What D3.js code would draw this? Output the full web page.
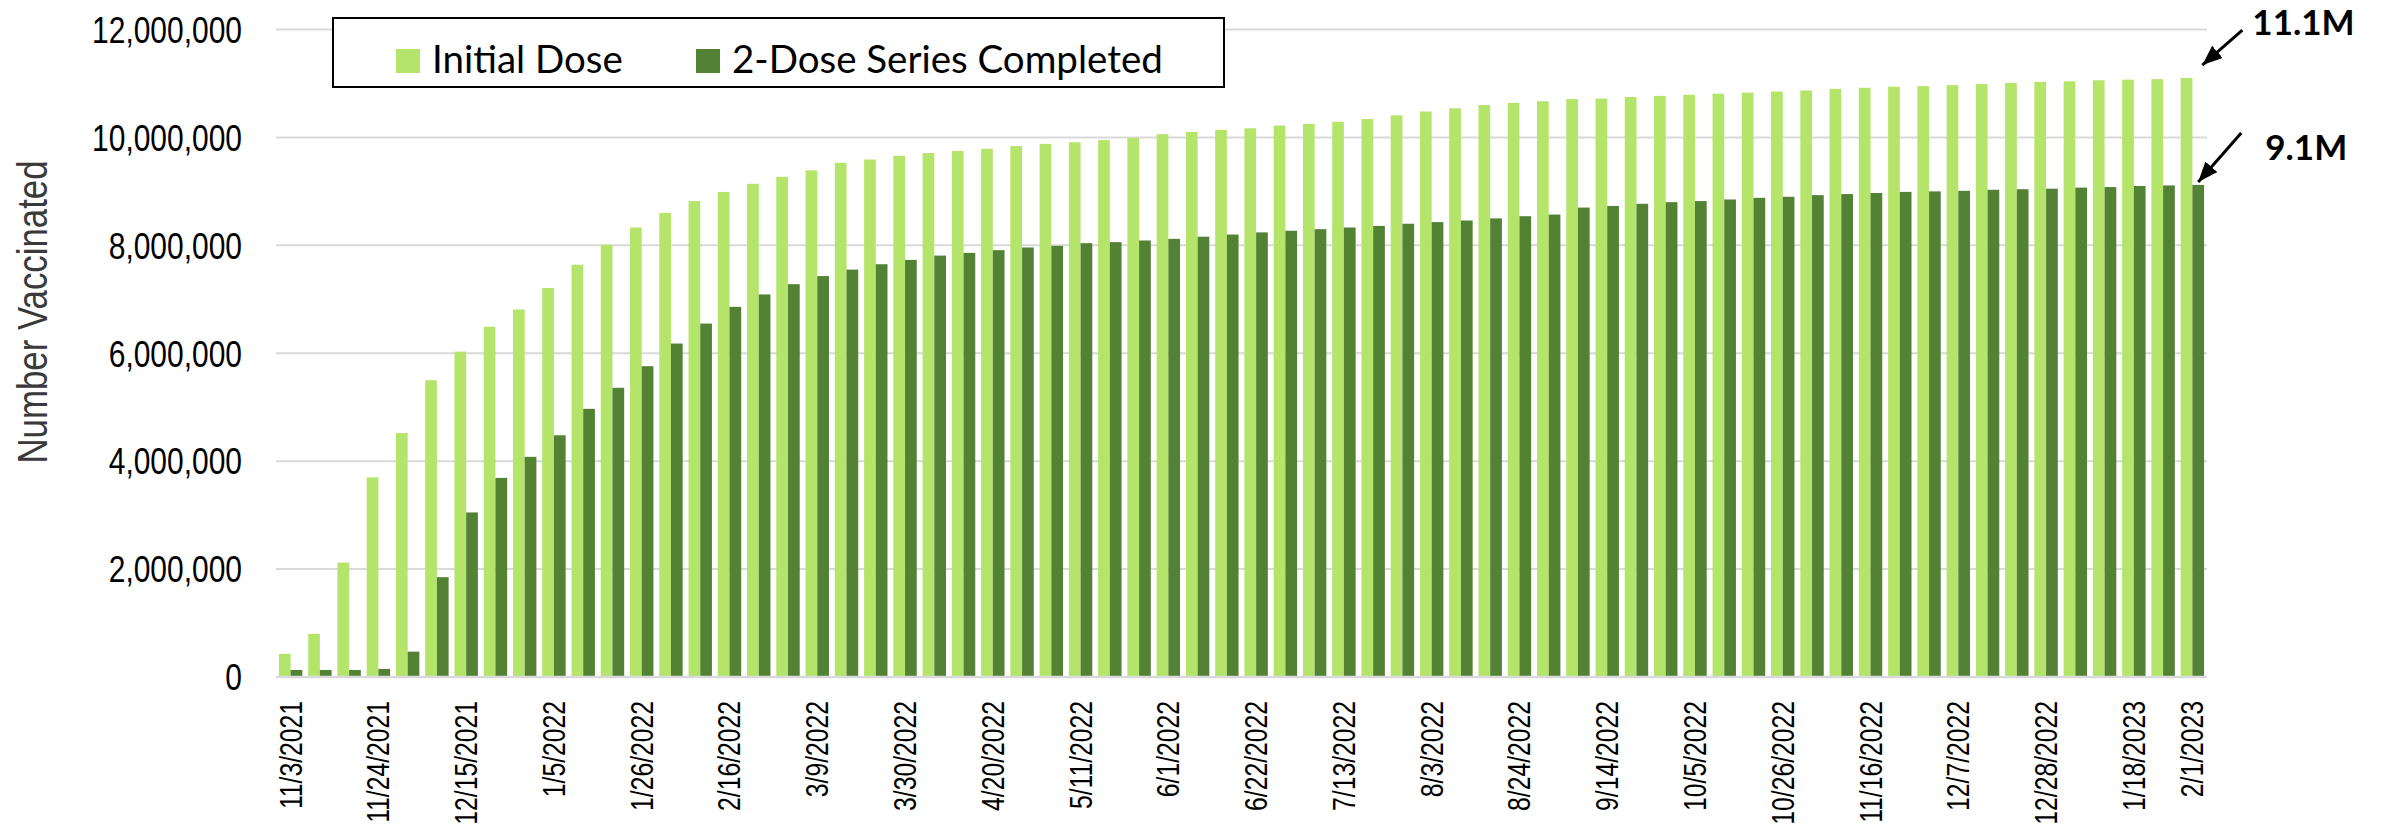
<!DOCTYPE html>
<html>
<head>
<meta charset="utf-8">
<script src="https://cdn.jsdelivr.net/npm/d3@7"></script>
<style>
  html, body { margin: 0; padding: 0; background: #ffffff; }
  svg { display: block; }
</style>
</head>
<body>
<script>
// ---------------- DATA ----------------
const categories = [
  "11/3/2021","11/10/2021","11/17/2021","11/24/2021","12/1/2021","12/8/2021","12/15/2021","12/22/2021","12/29/2021",
  "1/5/2022","1/12/2022","1/19/2022","1/26/2022","2/2/2022","2/9/2022","2/16/2022","2/23/2022",
  "3/2/2022","3/9/2022","3/16/2022","3/23/2022","3/30/2022","4/6/2022","4/13/2022","4/20/2022","4/27/2022",
  "5/4/2022","5/11/2022","5/18/2022","5/25/2022","6/1/2022","6/8/2022","6/15/2022","6/22/2022","6/29/2022",
  "7/6/2022","7/13/2022","7/20/2022","7/27/2022","8/3/2022","8/10/2022","8/17/2022","8/24/2022","8/31/2022",
  "9/7/2022","9/14/2022","9/21/2022","9/28/2022","10/5/2022","10/12/2022","10/19/2022","10/26/2022",
  "11/2/2022","11/9/2022","11/16/2022","11/23/2022","11/30/2022","12/7/2022","12/14/2022","12/21/2022","12/28/2022",
  "1/4/2023","1/11/2023","1/18/2023","1/25/2023","2/1/2023"
];

const xTickLabels = [
  "11/3/2021","11/24/2021","12/15/2021","1/5/2022","1/26/2022","2/16/2022","3/9/2022","3/30/2022",
  "4/20/2022","5/11/2022","6/1/2022","6/22/2022","7/13/2022","8/3/2022","8/24/2022","9/14/2022",
  "10/5/2022","10/26/2022","11/16/2022","12/7/2022","12/28/2022","1/18/2023","2/1/2023"
];

// values in millions
const initialDose = [
  0.43, 0.80, 2.12, 3.70, 4.52, 5.50, 6.03, 6.49, 6.81,
  7.21, 7.64, 8.01, 8.33, 8.60, 8.82, 8.99, 9.14,
  9.27, 9.39, 9.53, 9.59, 9.66, 9.71, 9.75, 9.79, 9.84,
  9.88, 9.91, 9.95, 9.99, 10.06, 10.10, 10.14, 10.17, 10.22,
  10.25, 10.29, 10.34, 10.41, 10.48, 10.54, 10.60, 10.64, 10.67,
  10.71, 10.72, 10.75, 10.77, 10.79, 10.81, 10.83, 10.85,
  10.87, 10.90, 10.92, 10.94, 10.95, 10.97, 10.99, 11.01, 11.03,
  11.04, 11.06, 11.07, 11.08, 11.10
];

const seriesCompleted = [
  0.13, 0.13, 0.13, 0.15, 0.47, 1.85, 3.05, 3.69, 4.08,
  4.48, 4.97, 5.36, 5.76, 6.18, 6.55, 6.86, 7.09,
  7.28, 7.43, 7.55, 7.65, 7.73, 7.81, 7.86, 7.91, 7.96,
  7.99, 8.04, 8.06, 8.09, 8.12, 8.16, 8.20, 8.24, 8.27,
  8.30, 8.33, 8.36, 8.40, 8.43, 8.46, 8.50, 8.54, 8.57,
  8.70, 8.73, 8.77, 8.80, 8.82, 8.85, 8.88, 8.90,
  8.93, 8.95, 8.97, 8.99, 9.00, 9.01, 9.03, 9.04, 9.05,
  9.07, 9.08, 9.10, 9.11, 9.12
];

const seriesNames = ["Initial Dose", "2-Dose Series Completed"];
const seriesColors = ["#b5e46b", "#548235"];

const yTicks = [0, 2, 4, 6, 8, 10, 12];
const yTickLabels = ["0", "2,000,000", "4,000,000", "6,000,000", "8,000,000", "10,000,000", "12,000,000"];
const yAxisTitle = "Number Vaccinated";
const annotationLabels = ["11.1M", "9.1M"];

// ---------------- LAYOUT ----------------
const W = 2384, H = 827;
const plot = { left: 276, right: 2207, top: 29.5, bottom: 677 };
const narrow = 0.81; // Arial Narrow look

const svg = d3.select("body").append("svg")
  .attr("width", W).attr("height", H)
  .attr("viewBox", `0 0 ${W} ${H}`);

svg.append("rect").attr("width", W).attr("height", H).attr("fill", "#ffffff");

const x = d3.scaleBand().domain(categories).range([plot.left, plot.right]).paddingInner(0).paddingOuter(0);
const xs = d3.scaleBand().domain(seriesNames).range([0, x.bandwidth()]).paddingInner(0).paddingOuter(0.25);
const y = d3.scaleLinear().domain([0, 12]).range([plot.bottom, plot.top]);

// gridlines
svg.append("g").selectAll("line").data(yTicks).join("line")
  .attr("x1", plot.left).attr("x2", plot.right)
  .attr("y1", d => y(d)).attr("y2", d => y(d))
  .attr("stroke", "#d9d9d9").attr("stroke-width", 2);

// bars
const rows = categories.map((c, i) => ({ c, vals: [initialDose[i], seriesCompleted[i]] }));
const groups = svg.append("g").selectAll("g").data(rows).join("g")
  .attr("transform", d => `translate(${x(d.c)},0)`);
groups.selectAll("rect").data(d => d.vals.map((v, k) => ({ v, k }))).join("rect")
  .attr("x", d => xs(seriesNames[d.k]))
  .attr("width", xs.bandwidth())
  .attr("y", d => y(d.v))
  .attr("height", d => y(0) - y(d.v))
  .attr("fill", d => seriesColors[d.k]);

// baseline
svg.append("line")
  .attr("x1", plot.left).attr("x2", plot.right)
  .attr("y1", y(0)).attr("y2", y(0))
  .attr("stroke", "#d9d9d9").attr("stroke-width", 2.5);

// y tick labels
svg.append("g").selectAll("text").data(yTicks).join("text")
  .attr("transform", d => `translate(242,${y(d)}) scale(${narrow},1)`)
  .attr("dy", "0.36em")
  .attr("text-anchor", "end")
  .attr("font-family", "'Liberation Sans', Arial, sans-serif")
  .attr("font-size", 37)
  .attr("fill", "#000")
  .text((d, i) => yTickLabels[i]);

// x tick labels
svg.append("g").selectAll("text").data(xTickLabels).join("text")
  .attr("transform", d => `translate(${x(d) + x.bandwidth() / 2},701) rotate(-90) scale(${narrow},1)`)
  .attr("dy", "0.36em")
  .attr("text-anchor", "end")
  .attr("font-family", "'Liberation Sans', Arial, sans-serif")
  .attr("font-size", 30.5)
  .attr("fill", "#000")
  .text(d => d);

// y axis title
svg.append("text")
  .attr("transform", `translate(47,312) rotate(-90) scale(${narrow},1)`)
  .attr("text-anchor", "middle")
  .attr("font-family", "'Liberation Sans', Arial, sans-serif")
  .attr("font-size", 43)
  .attr("fill", "#3a3a3a")
  .text(yAxisTitle);

// legend
const legend = svg.append("g");
legend.append("rect")
  .attr("x", 333).attr("y", 18).attr("width", 891).attr("height", 69)
  .attr("fill", "#ffffff").attr("stroke", "#000").attr("stroke-width", 2);
const legendX = [396, 696];
seriesNames.forEach((name, i) => {
  legend.append("rect")
    .attr("x", legendX[i]).attr("y", 49).attr("width", 24).attr("height", 24)
    .attr("fill", seriesColors[i]);
  legend.append("text")
    .attr("x", legendX[i] + 36).attr("y", 73)
    .attr("font-family", "Lato, 'Open Sans', sans-serif")
    .attr("font-size", 38.5)
    .attr("fill", "#000")
    .text(name);
});

// annotations with arrows
svg.append("defs").append("marker")
  .attr("id", "arrowhead")
  .attr("markerUnits", "userSpaceOnUse")
  .attr("markerWidth", 22).attr("markerHeight", 18)
  .attr("refX", 20).attr("refY", 8)
  .attr("orient", "auto")
  .append("path").attr("d", "M0,0 L20,8 L0,16 Z").attr("fill", "#000");

const lastIdx = categories.length - 1;
const last = categories[lastIdx];
const tips = [
  { x: x(last) + xs(seriesNames[0]) + xs.bandwidth() + 10, y: y(initialDose[lastIdx]) - 13, dx: 40, dy: -35, tx: 50, ty: -30 },
  { x: x(last) + xs(seriesNames[1]) + xs.bandwidth() / 2, y: y(seriesCompleted[lastIdx]) - 3, dx: 43, dy: -49, tx: 67, ty: -22 }
];
tips.forEach((t, i) => {
  svg.append("line")
    .attr("x1", t.x + t.dx).attr("y1", t.y + t.dy)
    .attr("x2", t.x).attr("y2", t.y)
    .attr("stroke", "#000").attr("stroke-width", 3)
    .attr("marker-end", "url(#arrowhead)");
  svg.append("text")
    .attr("x", t.x + t.tx).attr("y", t.y + t.ty)
    .attr("font-family", "Lato, 'Open Sans', sans-serif")
    .attr("font-weight", "bold")
    .attr("font-size", 35)
    .attr("fill", "#000")
    .text(annotationLabels[i]);
});
</script>
</body>
</html>
